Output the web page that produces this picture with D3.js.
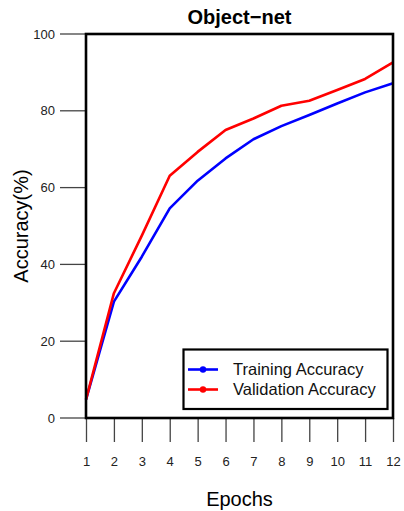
<!DOCTYPE html>
<html><head><meta charset="utf-8">
<script src="https://cdn.jsdelivr.net/npm/d3@7"></script>
<style>body{margin:0;background:#fff}svg{display:block}text{font-family:"Liberation Sans",Arial,sans-serif}</style>
</head><body><svg id="c" width="404" height="511"></svg>
<script>
const epochs = [1,2,3,4,5,6,7,8,9,10,11,12];
const training = [4.8,30.3,42,54.6,61.8,67.6,72.6,76,78.9,81.9,84.8,87.2];
const validation = [4.8,32.5,47.5,63.1,69.3,75,78,81.3,82.6,85.4,88.3,92.6];
const yTicks = [0,20,40,60,80,100];
const seriesNames = ["Training Accuracy","Validation Accuracy"];
const colors = ["#0000ff","#ff0000"];

const svg = d3.select("#c");
const L=86,R=393,T=34,B=418;
const x = d3.scaleLinear().domain([1,12]).range([L,R]);
const y = d3.scaleLinear().domain([0,100]).range([B,T]);

// y axis
const ya = svg.append("g").attr("transform",`translate(${L-26},0)`)
  .call(d3.axisLeft(y).tickValues(yTicks).tickSize(0).tickPadding(5));
ya.select(".domain").remove();
ya.selectAll("text").attr("font-size",13).attr("fill","#222").style("font-family","Liberation Sans, Arial, sans-serif");
svg.append("g").selectAll("line").data(yTicks).join("line")
  .attr("x1",L-26).attr("x2",L).attr("y1",d=>y(d)).attr("y2",d=>y(d))
  .attr("stroke","#444").attr("stroke-width",1.3);

// x axis
const xa = svg.append("g").attr("transform",`translate(0,${B})`)
  .call(d3.axisBottom(x).tickValues(epochs).tickSize(24).tickPadding(15).tickFormat(d3.format("d")));
xa.select(".domain").remove();
xa.selectAll("line").attr("stroke","#444").attr("stroke-width",1.3);
xa.selectAll("text").attr("font-size",13).attr("fill","#222").style("font-family","Liberation Sans, Arial, sans-serif");

// lines
const line = d3.line().x((d,i)=>x(epochs[i])).y(d=>y(d));
[training,validation].forEach((s,k)=>{
  svg.append("path").datum(s).attr("d",line).attr("fill","none")
    .attr("stroke",colors[k]).attr("stroke-width",2.6).attr("stroke-linejoin","round");
});

// box
svg.append("rect").attr("x",L).attr("y",T).attr("width",R-L).attr("height",B-T)
  .attr("fill","none").attr("stroke","#000").attr("stroke-width",2.6);

// legend
const lg = svg.append("g");
lg.append("rect").attr("x",183.5).attr("y",349.5).attr("width",204).attr("height",59.5)
  .attr("fill","#fff").attr("stroke","#000").attr("stroke-width",2.2);
seriesNames.forEach((n,k)=>{
  const yy = 369.5 + k*20;
  lg.append("line").attr("x1",188).attr("x2",218).attr("y1",yy).attr("y2",yy)
    .attr("stroke",colors[k]).attr("stroke-width",2.6);
  lg.append("circle").attr("cx",203).attr("cy",yy).attr("r",3.2).attr("fill",colors[k]);
  lg.append("text").attr("x",233).attr("y",yy).attr("dy","0.36em").attr("font-size",16.5).attr("fill","#111").text(n);
});

// titles
svg.append("text").attr("x",(L+R)/2).attr("y",24).attr("text-anchor","middle")
  .attr("font-size",20).attr("font-weight","bold").text("Object\u2212net");
svg.append("text").attr("x",(L+R)/2).attr("y",506).attr("text-anchor","middle")
  .attr("font-size",20).text("Epochs");
svg.append("text").attr("transform",`translate(28,${(T+B)/2}) rotate(-90)`).attr("text-anchor","middle")
  .attr("font-size",20).text("Accuracy(%)");
</script></body></html>
